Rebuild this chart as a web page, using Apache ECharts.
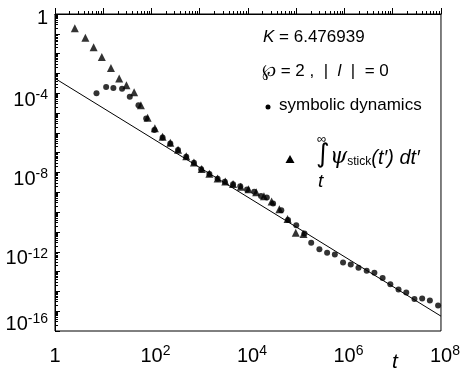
<!DOCTYPE html>
<html>
<head>
<meta charset="utf-8">
<script src="https://cdn.jsdelivr.net/npm/echarts@6/dist/echarts.min.js"></script>
<style>
html, body { margin: 0; padding: 0; background: #fff; }
#main { width: 463px; height: 370px; }
</style>
</head>
<body>
<div id="main"></div>
<script>
// all values are log10 of what is plotted (axes are log-log)
var dotT = [0.86, 1.06, 1.21, 1.39, 1.55, 1.73, 1.89, 2.06, 2.23, 2.39, 2.55, 2.72, 2.88, 3.03, 3.20,
            3.37, 3.52, 3.69, 3.84, 3.98, 4.13, 4.27, 4.39, 4.52, 4.69, 4.83, 5.00, 5.17, 5.31, 5.48,
            5.64, 5.80, 5.97, 6.13, 6.29, 6.46, 6.62, 6.79, 6.95, 7.12, 7.28, 7.45, 7.61, 7.77, 7.94];
var dotY = [-4.00, -3.69, -3.74, -3.77, -4.18, -4.60, -5.27, -5.85, -6.23, -6.53, -6.87, -7.20, -7.51, -7.83, -8.08,
            -8.32, -8.47, -8.59, -8.70, -8.86, -8.97, -9.19, -9.26, -9.56, -9.90, -10.40, -10.66, -11.08, -11.55, -11.88,
            -12.05, -12.14, -12.54, -12.64, -12.81, -12.96, -13.06, -13.32, -13.64, -13.90, -14.06, -14.39, -14.36, -14.46, -14.71];

var triT = [0.41, 0.63, 0.80, 0.97, 1.16, 1.33, 1.48, 1.64, 1.78, 1.92, 2.07, 2.23, 2.39, 2.55, 2.72,
            2.88, 3.04, 3.20, 3.37, 3.53, 3.69, 3.85, 4.01, 4.17, 4.33, 4.49, 4.65, 4.82, 4.99, 5.15];
var triY = [-0.72, -1.20, -1.68, -2.17, -2.73, -3.25, -3.59, -3.95, -4.60, -5.24, -5.77, -6.20, -6.50, -6.85, -7.18,
            -7.50, -7.82, -8.06, -8.30, -8.45, -8.58, -8.72, -8.84, -9.00, -9.20, -9.46, -9.85, -10.35, -11.04, -11.10];

// straight reference line, t^-3/2
var fitT = [0, 8];
var fitY = [-3.25, -15.25];

var xMajor = [0, 1, 2, 3, 4, 5, 6, 7, 8];
var xLabeled = [0, 2, 4, 6, 8];
var yMajor = [0, -1, -2, -3, -4, -5, -6, -7, -8, -9, -10, -11, -12, -13, -14, -15, -16];
var yLabeled = [0, -4, -8, -12, -16];

function minorOf(decades) {
    var out = [];
    decades.forEach(function (d) {
        for (var k = 2; k <= 9; k++) out.push(d + Math.log10(k));
    });
    return out;
}
var xMinor = minorOf([0, 1, 2, 3, 4, 5, 6, 7]);
var yMinor = minorOf([-16, -15, -14, -13, -12, -11, -10, -9, -8, -7, -6, -5, -4, -3, -2, -1]);

function pairs(a, b) {
    return a.map(function (v, i) { return [v, b[i]]; });
}

var FONT = 'Liberation Sans';
var supRich = {
    n: { fontSize: 20, fontFamily: FONT, color: '#000', verticalAlign: 'bottom', lineHeight: 22 },
    b: { fontSize: 20, fontFamily: FONT, color: '#000', verticalAlign: 'bottom', lineHeight: 22 },
    bx: { fontSize: 20, fontFamily: FONT, color: '#000', verticalAlign: 'bottom', lineHeight: 22, padding: [0, 0, 0, 8] },
    s: { fontSize: 14, fontFamily: FONT, color: '#000', verticalAlign: 'top', lineHeight: 22 },
    // empty spacer lines used to nudge y labels off their ticks
    g6: { fontSize: 2, lineHeight: 6 },
    g12: { fontSize: 2, lineHeight: 12 },
    g16: { fontSize: 2, lineHeight: 16 }
};

var myChart = echarts.init(document.getElementById('main'));
option = {
    animation: false,
    backgroundColor: '#fff',
    grid: {
        left: 55, right: 16, top: 14, bottom: 39,
        show: true, borderColor: '#000', borderWidth: 1
    },
    xAxis: [{
        type: 'value', min: 0, max: 8, interval: 1,
        splitLine: { show: false },
        axisLine: { lineStyle: { color: '#000', width: 1 } },
        axisTick: { inside: true, length: 6, lineStyle: { color: '#000' }, customValues: xMajor },
        axisLabel: {
            margin: 13, rich: supRich, customValues: xLabeled,
            formatter: function (v) {
                if (xLabeled.indexOf(v) < 0) return '';
                return v === 0 ? '{n|1}' : '{bx|10}{s|' + v + '}';
            }
        }
    }, {
        type: 'value', min: 0, max: 8, position: 'bottom',
        splitLine: { show: false },
        axisLine: { show: false },
        axisLabel: { show: false },
        axisTick: { inside: true, length: 3, lineStyle: { color: '#000' }, customValues: xMinor }
    }],
    yAxis: [{
        type: 'value', min: -16, max: 0, interval: 1,
        splitLine: { show: false },
        axisLine: { lineStyle: { color: '#000', width: 1 } },
        axisTick: { inside: true, length: 5, lineStyle: { color: '#000' }, customValues: yMajor },
        axisLabel: {
            margin: 7, rich: supRich, customValues: yLabeled,
            formatter: function (v) {
                if (yLabeled.indexOf(v) < 0) return '';
                if (v === 0) return '{g6| }\n{n|1}';
                if (v === -16) return '{b|10}{s|' + v + '}\n{g16| }';
                return '{g12| }\n{b|10}{s|' + v + '}';
            }
        }
    }, {
        type: 'value', min: -16, max: 0, position: 'left',
        splitLine: { show: false },
        axisLine: { show: false },
        axisLabel: { show: false },
        axisTick: { inside: true, length: 3, lineStyle: { color: '#000' }, customValues: yMinor }
    }],
    series: [{
        name: 'fit',
        type: 'line',
        data: pairs(fitT, fitY),
        symbol: 'none',
        lineStyle: { color: '#000', width: 1 },
        silent: true
    }, {
        name: 'stick',
        type: 'scatter',
        data: pairs(triT, triY),
        symbol: 'triangle',
        symbolSize: 8,
        itemStyle: { color: '#000' }
    }, {
        name: 'symbolic dynamics',
        type: 'scatter',
        data: pairs(dotT, dotY),
        symbol: 'circle',
        symbolSize: 6,
        itemStyle: { color: '#000' }
    }],
    graphic: [
        { type: 'text', left: 392, top: 352, style: { text: 't', font: 'italic 21px "Liberation Sans"', fill: '#000' } },
        { type: 'text', left: 263, top: 29, style: {
            text: '{i|K} = 6.476939',
            font: '17px "Liberation Sans"', fill: '#000',
            rich: { i: { font: 'italic 17px "Liberation Sans"' } }
        } },
        { type: 'text', left: 262, top: 63, style: {
            text: '\u2118 = 2 ,  |  {i|l}  |  = 0',
            font: '17px "Liberation Sans"', fill: '#000',
            rich: { i: { font: 'italic 17px "Liberation Sans"' } }
        } },
        { type: 'circle', shape: { cx: 268, cy: 107, r: 2.5 }, style: { fill: '#000' } },
        { type: 'text', left: 279, top: 97, style: { text: 'symbolic dynamics', font: '17px "Liberation Sans"', fill: '#000' } },
        { type: 'polygon', shape: { points: [[290, 155], [285.5, 163], [294.5, 163]] }, style: { fill: '#000' } },
        { type: 'text', left: 317, top: 133, style: { text: '\u221e', font: '13px "Liberation Sans"', fill: '#000' } },
        { type: 'text', left: 316, top: 142, style: { text: '\u222b', font: '26px "DejaVu Sans"', fill: '#000' } },
        { type: 'text', left: 318, top: 172, style: { text: 't', font: 'italic 19px "Liberation Sans"', fill: '#000' } },
        { type: 'text', left: 330, top: 146, style: {
            text: '{p|\u03c8}{s|stick}{r|(t\u2032) dt\u2032}',
            rich: {
                p: { font: 'italic 22px "DejaVu Serif"', fill: '#000', verticalAlign: 'bottom', lineHeight: 25 },
                s: { font: '12px "Liberation Sans"', fill: '#000', verticalAlign: 'bottom', lineHeight: 21 },
                r: { font: 'italic 20px "Liberation Sans"', fill: '#000', verticalAlign: 'bottom', lineHeight: 25 }
            }
        } }
    ]
};
myChart.setOption(option);
</script>
</body>
</html>
